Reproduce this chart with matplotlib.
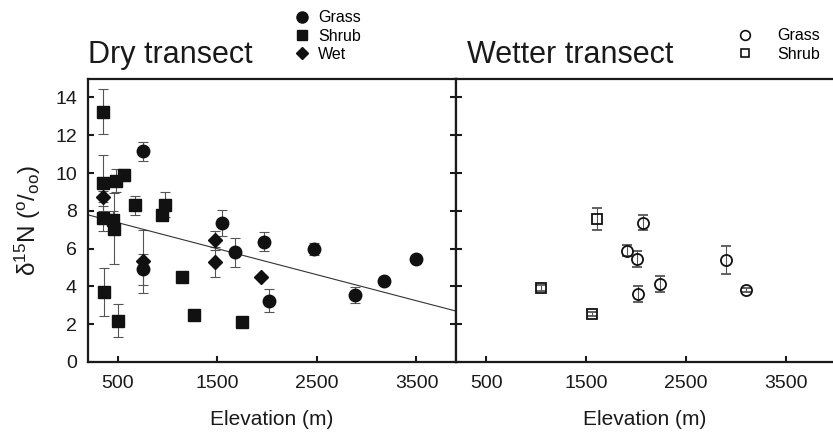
import matplotlib
matplotlib.use("Agg")
import matplotlib.pyplot as plt
import numpy as np
from matplotlib.lines import Line2D

plt.rcParams['font.family'] = ['Liberation Sans', 'DejaVu Sans']
plt.rcParams['mathtext.fontset'] = 'custom'
plt.rcParams['mathtext.rm'] = 'Liberation Sans'
plt.rcParams['mathtext.it'] = 'Liberation Sans:italic'
plt.rcParams['mathtext.bf'] = 'Liberation Sans:bold'

# ---------------- data ----------------
dry_grass_elev = [750, 750, 1550, 1675, 1970, 2015, 2475, 2880, 3175, 3500]
dry_grass_d15n = [11.15, 4.90, 7.35, 5.80, 6.37, 3.25, 5.98, 3.54, 4.28, 5.45]
dry_grass_err = [0.50, 0.80, 0.67, 0.75, 0.50, 0.60, 0.30, 0.42, 0.00, 0.00]

dry_shrub_elev = [350, 350, 480, 565, 670, 975, 940, 350, 450, 460, 360, 505, 1145, 1260, 1750]
dry_shrub_d15n = [13.25, 9.48, 9.60, 9.89, 8.30, 8.33, 7.80, 7.60, 7.50, 7.05, 3.73, 2.19, 4.48, 2.50, 2.14]
dry_shrub_err = [1.17, 1.47, 0.63, 0.30, 0.50, 0.67, 0.30, 0.68, 0.50, 1.87, 1.27, 0.88, 0.00, 0.20, 0.00]

dry_wet_elev = [350, 750, 1475, 1480, 1940]
dry_wet_d15n = [8.74, 5.32, 6.44, 5.29, 4.49]
dry_wet_err = [0.30, 1.65, 0.50, 0.80, 0.00]

wet_grass_elev = [2070, 1910, 2010, 2900, 2240, 2020, 3100]
wet_grass_d15n = [7.36, 5.89, 5.45, 5.40, 4.12, 3.59, 3.82]
wet_grass_err = [0.40, 0.28, 0.42, 0.76, 0.44, 0.42, 0.10]

wet_shrub_elev = [1610, 1050, 1555]
wet_shrub_d15n = [7.57, 3.91, 2.55]
wet_shrub_err = [0.58, 0.15, 0.10]

fit_intercept = 8.06
fit_slope = -0.001377

xticks = [500, 1500, 2500, 3500]
yticks = [0, 2, 4, 6, 8, 10, 12, 14]

# ---------------- figure ----------------
W, H = 833, 437
fig = plt.figure(figsize=(W / 100, H / 100), dpi=100)

def rect(x0, y0, x1, y1):
    return [x0 / W, 1 - y1 / H, (x1 - x0) / W, (y1 - y0) / H]

ax1 = fig.add_axes(rect(88, 78.5, 456.3, 362))
ax2 = fig.add_axes(rect(456.3, 78.5, 833, 362))

blk = '#111111'
errc = '#555555'
eb_kw = dict(ls='none', ecolor=errc, elinewidth=0.8, capsize=3.5, capthick=0.8)

# Dry transect
ax1.errorbar(dry_shrub_elev, dry_shrub_d15n, yerr=dry_shrub_err, marker='s', ms=8,
             mfc=blk, mec=blk, **eb_kw)
ax1.errorbar(dry_wet_elev, dry_wet_d15n, yerr=dry_wet_err, marker='D', ms=7.5,
             mfc=blk, mec=blk, **eb_kw)
ax1.errorbar(dry_grass_elev, dry_grass_d15n, yerr=dry_grass_err, marker='o', ms=9,
             mfc=blk, mec=blk, **eb_kw)
xl = np.array([200, 3900])
ax1.plot(xl, fit_intercept + fit_slope * xl, color='#333333', lw=0.8)
ax1.set_xlim(200, 3900)

# Wetter transect
ax2.errorbar(wet_shrub_elev, wet_shrub_d15n, yerr=wet_shrub_err, marker='s', ms=7,
             mfc='none', mec=blk, mew=1.3, **eb_kw)
ax2.errorbar(wet_grass_elev, wet_grass_d15n, yerr=wet_grass_err, marker='o', ms=8,
             mfc='none', mec=blk, mew=1.3, **eb_kw)
ax2.set_xlim(200, 3973)

for ax in (ax1, ax2):
    ax.set_ylim(0, 15)
    ax.set_xticks(xticks)
    ax.set_yticks(yticks)
    for s in ax.spines.values():
        s.set_linewidth(1.6)
        s.set_color('#1a1a1a')
    ax.tick_params(direction='in', length=4, width=1.5, labelsize=14, colors='#1a1a1a')
    ax.tick_params(axis='x', pad=9)
    ax.tick_params(axis='y', pad=8)
    ax.set_xlabel('Elevation (m)', fontsize=15, labelpad=13, color='#1a1a1a')

ax1.tick_params(axis='y', right=True)
ax2.spines['right'].set_visible(False)
ax2.tick_params(axis='y', labelleft=False)

ax1.set_ylabel(r'$\mathrm{\delta^{15}N\ (^{o}/_{oo})}$', fontsize=17.5, color='#1a1a1a')
ax1.yaxis.set_label_coords(-0.122, 0.5)

fig.text(88 / W, 1 - 63 / H, 'Dry transect', fontsize=22, va='baseline', ha='left', color='#1a1a1a')
fig.text(467 / W, 1 - 63 / H, 'Wetter transect', fontsize=22, va='baseline', ha='left', color='#1a1a1a')

# Legends
fs = 11.5
h1 = [Line2D([], [], ls='none', marker='o', ms=8, mfc=blk, mec=blk),
      Line2D([], [], ls='none', marker='s', ms=7, mfc=blk, mec=blk),
      Line2D([], [], ls='none', marker='D', ms=6.5, mfc=blk, mec=blk)]
fs_px = fs * 100 / 72
fig.legend(h1, ['Grass', 'Shrub', 'Wet'], loc='upper left',
           bbox_to_anchor=((302 - 0.5 * fs_px) / W, 1 - 10.5 / H), frameon=False, fontsize=fs,
           handlelength=1.0, handletextpad=(318 - 302 - 0.5 * fs_px) / fs_px,
           labelspacing=0.2, borderpad=0, borderaxespad=0)
h2 = [Line2D([], [], ls='none', marker='o', ms=7, mfc='none', mec=blk, mew=1.2),
      Line2D([], [], ls='none', marker='s', ms=6, mfc='none', mec=blk, mew=1.2)]
fig.legend(h2, ['Grass', 'Shrub'], loc='upper left',
           bbox_to_anchor=((745 - 0.5 * fs_px) / W, 1 - 28.5 / H), frameon=False, fontsize=fs,
           handlelength=1.0, handletextpad=(777 - 745 - 0.5 * fs_px) / fs_px,
           labelspacing=0.2, borderpad=0, borderaxespad=0)

fig.savefig('out.png', dpi=100)
